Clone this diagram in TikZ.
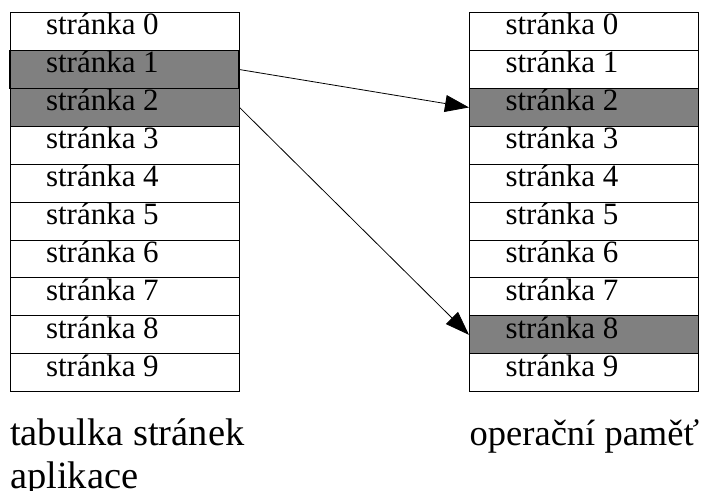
\documentclass[tikz,border=0pt]{standalone}
\usepackage{fontspec}
\setmainfont{Liberation Serif}
\usetikzlibrary{arrows.meta}
\definecolor{pagegray}{HTML}{808080}
\newcommand{\pagetext}[1]{\makebox[229pt][l]{\hspace*{36pt}stránka #1}}
\tikzset{
  page/.style={draw, line width=1pt, inner sep=0pt, text height=22.3pt, text depth=15.6pt,
    font=\fontsize{31}{31}\selectfont},
  maparrow/.style={-{Triangle[length=24pt,width=17pt]}, line width=0.8pt},
  caption/.style={font=\fontsize{38.5}{43}\selectfont, inner sep=0pt, anchor=base west, align=left}
}
\begin{document}
\begin{tikzpicture}[x=1pt,y=1pt]
\useasboundingbox (0,0) rectangle (701,490);

% tabulka stranek
\foreach \i/\c in {0/white,1/pagegray,2/pagegray,3/white,4/white,5/white,6/white,7/white,8/white,9/white}
  \node[page, fill=\c] (l\i) at (124.5, {477.3-(\i+0.5)*37.9}) {\pagetext{\i}};
\node[page, fill=pagegray, line width=1.6pt] at (l1) {\pagetext{1}};

% operacni pamet
\foreach \i/\c in {0/white,1/white,2/pagegray,3/white,4/white,5/white,6/white,7/white,8/pagegray,9/white}
  \node[page, fill=\c] (r\i) at (584, {477.3-(\i+0.5)*37.9}) {\pagetext{\i}};

\draw[maparrow] (l1.east) -- (r2.west);
\draw[maparrow] (l2.east) -- (r8.west);

\node[caption] (ltitle) at (10,2) {tabulka stránek\\aplikace};
\node[caption, font=\fontsize{36.5}{43}\selectfont] (rtitle) at (469.5,45) {operační paměť};
\end{tikzpicture}
\end{document}
